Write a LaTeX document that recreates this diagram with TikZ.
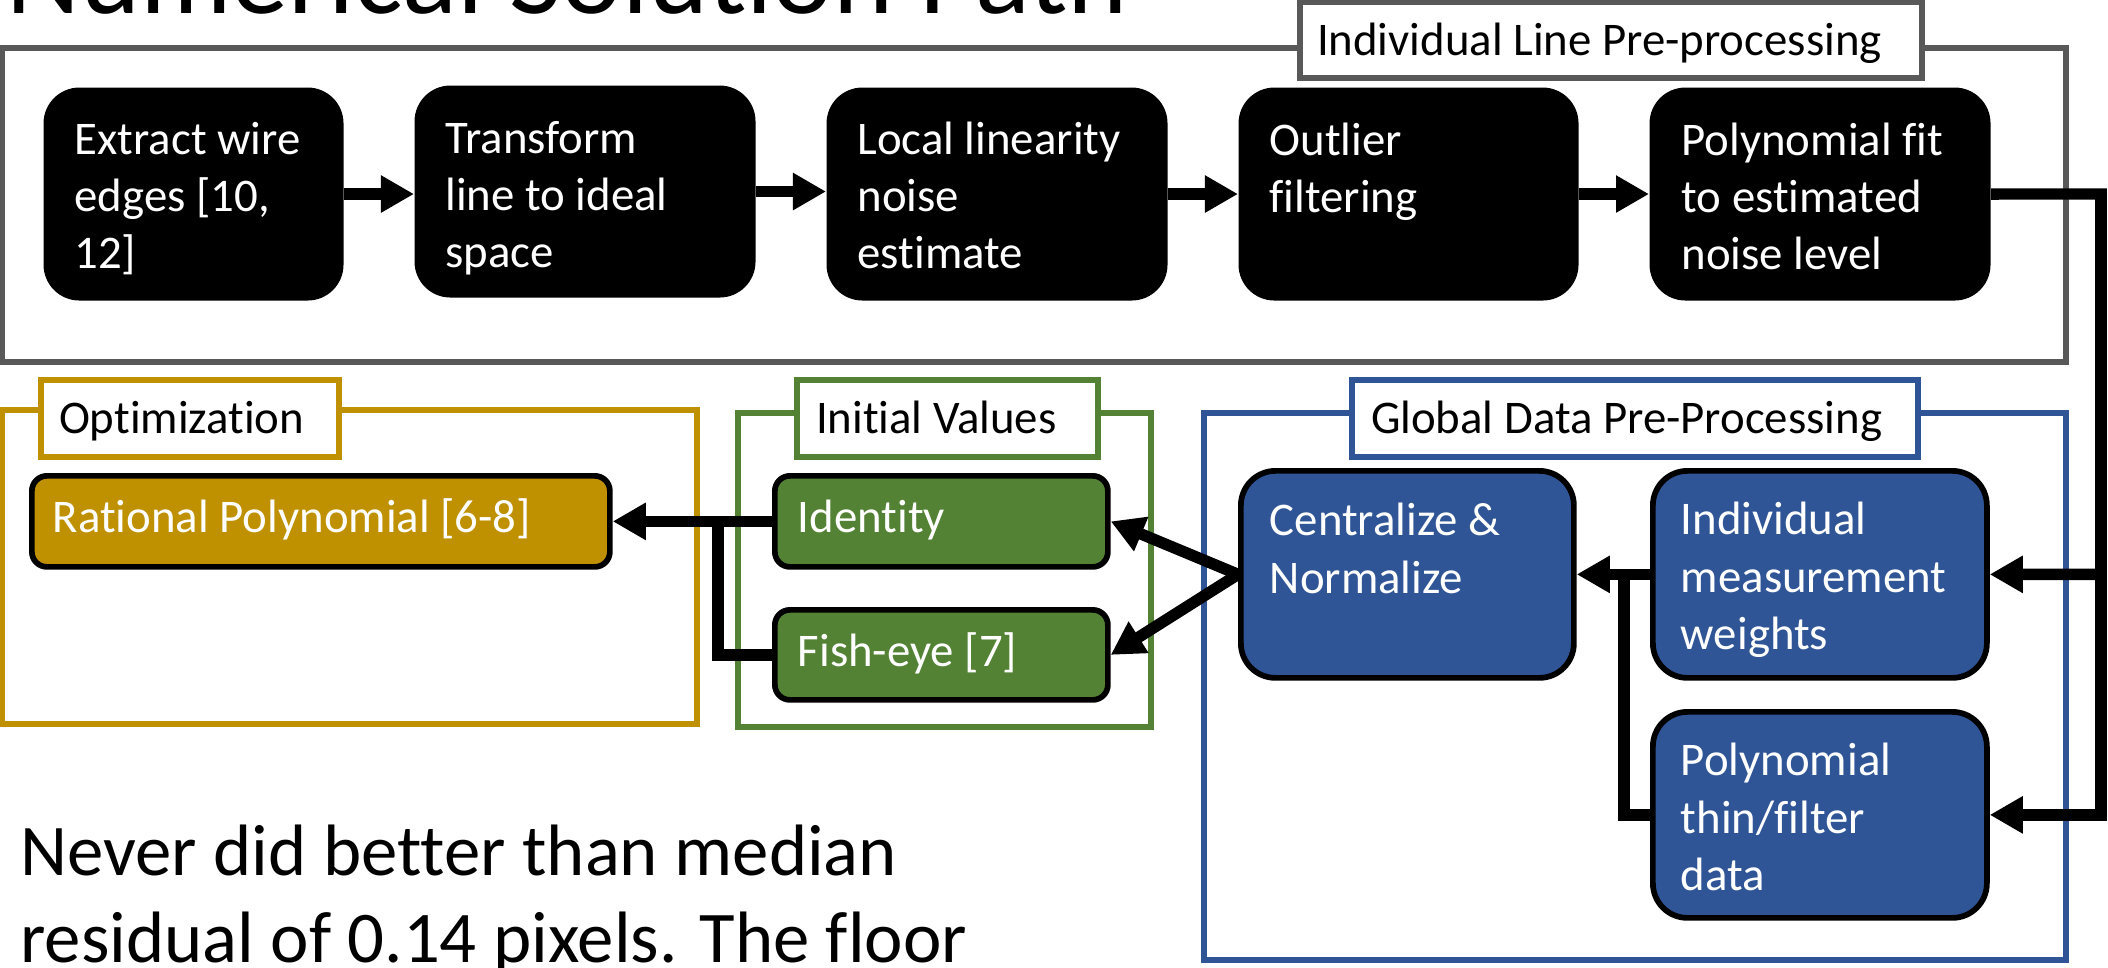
\documentclass[tikz,border=0pt]{standalone}
\usepackage{fontspec}
\setmainfont{Carlito}[Ligatures=NoCommon]
\usetikzlibrary{arrows.meta}
\definecolor{framegray}{HTML}{595959}
\definecolor{accblue}{HTML}{2F5597}
\definecolor{accgreen}{HTML}{548235}
\definecolor{accgold}{HTML}{BF9000}
\newdimen\pxu \pxu=0.3846pt
% box text: width, height, left pad, first baseline, text
\newcommand{\cell}[5]{\parbox[c][#2\pxu][t]{#1\pxu}{\raggedright\leftskip=#3\pxu\rule{0pt}{#4\pxu}#5}}
\tikzset{
  groupframe/.style={draw=#1, line width=2pt},
  grouptag/.style={draw=#1, fill=white, line width=2pt, inner sep=0pt, outer sep=0pt,
    anchor=north west, text=black, font=\fontsize{18}{22}\selectfont},
  stepbox/.style={fill=black, text=white, inner sep=0pt, anchor=north west,
    rounded corners=13.8pt, font=\fontsize{18}{22}\selectfont},
  blockbox/.style={fill=#1, draw=black, line width=2.2pt, text=white, inner sep=0pt,
    anchor=north west, rounded corners=13.3pt, font=\fontsize{18}{22}\selectfont},
  pillbox/.style={fill=#1, draw=black, line width=2.2pt, text=white, inner sep=0pt,
    anchor=north west, rounded corners=5.8pt, font=\fontsize{18}{22}\selectfont},
  flowarrow/.style={line width=4.4pt, -{Triangle[length=12.7pt,width=13.5pt]}},
  flowline/.style={line width=4.4pt},
}
\begin{document}
\begin{tikzpicture}[x=0.3846pt,y=-0.3846pt]
  \useasboundingbox (0,0) rectangle (2108,967);
  \clip (0,0) rectangle (2108,967);
  \node[anchor=base west, inner sep=0pt, font=\fontsize{44}{53}\selectfont] (title) at (6,13) {Numerical Solution Path};
  % group frames
  \draw[groupframe=framegray] (2,48) rectangle (2066,362);
  \draw[groupframe=accgold] (2,410) rectangle (697,724);
  \draw[groupframe=accgreen] (738,413) rectangle (1151,727);
  \draw[groupframe=accblue] (1204,413) rectangle (2066,960);
  \node[grouptag=framegray] (linetag) at (1300,2) {\cell{622}{76}{17}{53}{Individual Line Pre-processing}};
  \node[grouptag=accgold] (opttag) at (41,380) {\cell{298}{77}{18}{53}{Optimization}};
  \node[grouptag=accgreen] (inittag) at (797,380) {\cell{301}{77}{19}{53}{Initial Values}};
  \node[grouptag=accblue] (globaltag) at (1352,380) {\cell{566}{77}{19}{53}{Global Data Pre-Processing}};
  % individual line steps
  \node[stepbox] (extract) at (43,87) {\cell{300}{213}{31}{67}{Extract wire\\edges [10,\\12]}};
  \node[stepbox] (transform) at (414,85) {\cell{341}{212}{31}{68}{Transform\\line to ideal\\space}};
  \node[stepbox] (linearity) at (826,87) {\cell{341}{213}{31}{67}{Local linearity\\noise\\estimate}};
  \node[stepbox] (outlier) at (1238,87) {\cell{340}{213}{31}{68}{Outlier\\filtering}};
  \node[stepbox] (fitnoise) at (1649,87) {\cell{341}{213}{32}{68}{Polynomial fit\\to estimated\\noise level}};
  % global data steps
  \node[blockbox=accblue] (centre) at (1238,468) {\cell{333}{207}{29}{65}{Centralize \&\\Normalize}};
  \node[blockbox=accblue] (weights) at (1650,468) {\cell{334}{207}{28}{64}{Individual\\measurement\\weights}};
  \node[blockbox=accblue] (thin) at (1650,709) {\cell{334}{206}{28}{64}{Polynomial\\thin/filter\\data}};
  % initial values, optimization
  \node[pillbox=accgreen] (identity) at (772,473) {\cell{333}{91}{23}{57}{Identity}};
  \node[pillbox=accgreen] (fisheye) at (772,607) {\cell{333}{90}{23}{57}{Fish-eye [7]}};
  \node[pillbox=accgold] (rational) at (29,473) {\cell{578}{91}{21}{57}{Rational Polynomial [6-8]}};
  % connectors
  \draw[flowarrow] (extract.east) -- (extract.east -| transform.west);
  \draw[flowarrow] (transform.east) -- (transform.east -| linearity.west);
  \draw[flowarrow] (linearity.east) -- (linearity.east -| outlier.west);
  \draw[flowarrow] (outlier.east) -- (outlier.east -| fitnoise.west);
  \coordinate (bus) at (2101,194);
  \draw[flowarrow] (fitnoise.east) -- (bus) |- (weights.east);
  \draw[flowarrow] (bus) |- (thin.east);
  \draw[flowarrow] (weights.west) -- (centre.east);
  \coordinate (merge) at (1624,575);
  \draw[flowline] (thin.west) -| (merge);
  \draw[flowarrow] (centre.west) -- (identity.east);
  \draw[flowarrow] (centre.west) -- (fisheye.east);
  \draw[flowarrow] (identity.west) -- (rational.east);
  \coordinate (gather) at (718,521);
  \draw[flowline] (fisheye.west) -| (gather);
  \node[anchor=base west, inner sep=0pt, font=\fontsize{28}{33.8}\selectfont] (note) at (20,875)
    {\parbox[t]{1400\pxu}{Never did better than median\\residual of 0.14 pixels. The floor}};
\end{tikzpicture}
\end{document}
